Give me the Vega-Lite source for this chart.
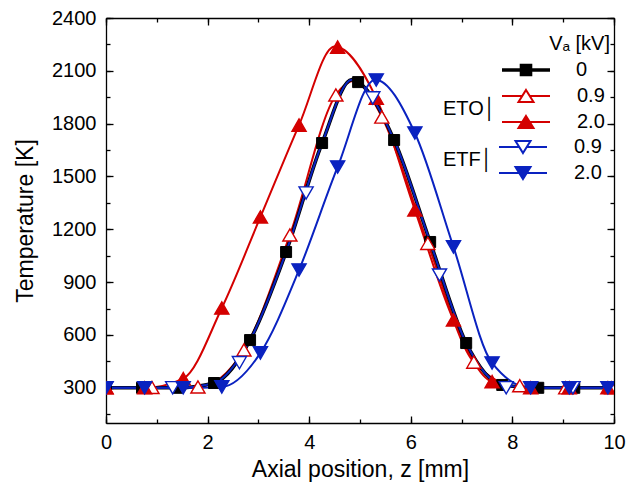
{
  "$schema": "https://vega.github.io/schema/vega-lite/v6.json",
  "width": 508,
  "height": 405,
  "autosize": "none",
  "padding": {"left": 106, "top": 18, "right": 14, "bottom": 68},
  "background": "white",
  "title": {"text": "Vₐ [kV]", "anchor": "end", "frame": "group", "orient": "top", "offset": -46, "dx": -4,
            "font": "Liberation Sans", "fontSize": 20, "fontWeight": "normal", "color": "black"},
  "config": {
    "view": {"stroke": null},
    "font": "Liberation Sans",
    "axis": {
      "grid": false,
      "domainColor": "black",
      "tickColor": "black",
      "labelColor": "black",
      "titleColor": "black",
      "labelFont": "Liberation Sans",
      "titleFont": "Liberation Sans",
      "labelFontSize": 20,
      "titleFontSize": 23,
      "titleFontWeight": "normal",
      "domainWidth": 1.3,
      "tickWidth": 1.3,
      "labelFlush": false,
      "labelOverlap": false
    },
    "legend": {
      "labelFont": "Liberation Sans",
      "labelFontSize": 20,
      "labelColor": "black",
      "titleFont": "Liberation Sans",
      "titleFontSize": 20,
      "titleFontWeight": "normal",
      "titleColor": "black",
      "symbolSize": 100,
      "padding": 0,
      "rowPadding": 6
    }
  },
  "datasets": {
    "markers": [
      {"series": "0", "z": 0, "T": 300},
      {"series": "0", "z": 0.709, "T": 300},
      {"series": "0", "z": 1.418, "T": 300},
      {"series": "0", "z": 2.127, "T": 327},
      {"series": "0", "z": 2.836, "T": 571},
      {"series": "0", "z": 3.545, "T": 1071},
      {"series": "0", "z": 4.254, "T": 1690},
      {"series": "0", "z": 4.963, "T": 2036},
      {"series": "0", "z": 5.672, "T": 1707},
      {"series": "0", "z": 6.381, "T": 1128},
      {"series": "0", "z": 7.09, "T": 554},
      {"series": "0", "z": 7.8, "T": 316},
      {"series": "0", "z": 8.509, "T": 300},
      {"series": "0", "z": 9.218, "T": 300},
      {"series": "0", "z": 9.927, "T": 300},
      {"series": "ETO 0.9", "z": 0, "T": 300},
      {"series": "ETO 0.9", "z": 0.905, "T": 302},
      {"series": "ETO 0.9", "z": 1.81, "T": 305},
      {"series": "ETO 0.9", "z": 2.715, "T": 515},
      {"series": "ETO 0.9", "z": 3.62, "T": 1168},
      {"series": "ETO 0.9", "z": 4.525, "T": 1963},
      {"series": "ETO 0.9", "z": 5.43, "T": 1838},
      {"series": "ETO 0.9", "z": 6.335, "T": 1120},
      {"series": "ETO 0.9", "z": 7.24, "T": 446},
      {"series": "ETO 0.9", "z": 8.145, "T": 312},
      {"series": "ETO 0.9", "z": 9.05, "T": 300},
      {"series": "ETO 0.9", "z": 9.955, "T": 300},
      {"series": "ETO 2.0", "z": 0, "T": 300},
      {"series": "ETO 2.0", "z": 0.76, "T": 300},
      {"series": "ETO 2.0", "z": 1.52, "T": 352},
      {"series": "ETO 2.0", "z": 2.28, "T": 753},
      {"series": "ETO 2.0", "z": 3.04, "T": 1270},
      {"series": "ETO 2.0", "z": 3.8, "T": 1792},
      {"series": "ETO 2.0", "z": 4.56, "T": 2235},
      {"series": "ETO 2.0", "z": 5.32, "T": 1945},
      {"series": "ETO 2.0", "z": 6.08, "T": 1310},
      {"series": "ETO 2.0", "z": 6.84, "T": 685},
      {"series": "ETO 2.0", "z": 7.6, "T": 335},
      {"series": "ETO 2.0", "z": 8.36, "T": 300},
      {"series": "ETO 2.0", "z": 9.12, "T": 300},
      {"series": "ETO 2.0", "z": 9.88, "T": 300},
      {"series": "ETF 0.9", "z": 0, "T": 300},
      {"series": "ETF 0.9", "z": 1.313, "T": 300},
      {"series": "ETF 0.9", "z": 2.626, "T": 443},
      {"series": "ETF 0.9", "z": 3.939, "T": 1406},
      {"series": "ETF 0.9", "z": 5.252, "T": 1946},
      {"series": "ETF 0.9", "z": 6.565, "T": 940},
      {"series": "ETF 0.9", "z": 7.878, "T": 300},
      {"series": "ETF 0.9", "z": 9.191, "T": 300},
      {"series": "ETF 2.0", "z": 0, "T": 300},
      {"series": "ETF 2.0", "z": 0.76, "T": 300},
      {"series": "ETF 2.0", "z": 1.52, "T": 300},
      {"series": "ETF 2.0", "z": 2.28, "T": 305},
      {"series": "ETF 2.0", "z": 3.04, "T": 498},
      {"series": "ETF 2.0", "z": 3.8, "T": 969},
      {"series": "ETF 2.0", "z": 4.56, "T": 1554},
      {"series": "ETF 2.0", "z": 5.32, "T": 2048},
      {"series": "ETF 2.0", "z": 6.08, "T": 1747},
      {"series": "ETF 2.0", "z": 6.84, "T": 1100},
      {"series": "ETF 2.0", "z": 7.6, "T": 441},
      {"series": "ETF 2.0", "z": 8.36, "T": 300},
      {"series": "ETF 2.0", "z": 9.12, "T": 300},
      {"series": "ETF 2.0", "z": 9.88, "T": 300}
    ],
    "curves": [
      {"series": "ETO 2.0", "z": 0, "T": 300},
      {"series": "ETO 2.0", "z": 0.76, "T": 300},
      {"series": "ETO 2.0", "z": 1.52, "T": 352},
      {"series": "ETO 2.0", "z": 2.28, "T": 753},
      {"series": "ETO 2.0", "z": 3.04, "T": 1270},
      {"series": "ETO 2.0", "z": 3.8, "T": 1792},
      {"series": "ETO 2.0", "z": 4.5, "T": 2238},
      {"series": "ETO 2.0", "z": 5.32, "T": 1945},
      {"series": "ETO 2.0", "z": 6.08, "T": 1310},
      {"series": "ETO 2.0", "z": 6.84, "T": 685},
      {"series": "ETO 2.0", "z": 7.6, "T": 335},
      {"series": "ETO 2.0", "z": 8.36, "T": 300},
      {"series": "ETO 2.0", "z": 10, "T": 300},
      {"series": "ETO 0.9", "z": 0, "T": 300},
      {"series": "ETO 0.9", "z": 1.81, "T": 305},
      {"series": "ETO 0.9", "z": 2.715, "T": 515},
      {"series": "ETO 0.9", "z": 3.62, "T": 1168},
      {"series": "ETO 0.9", "z": 4.525, "T": 1963},
      {"series": "ETO 0.9", "z": 4.9, "T": 2045},
      {"series": "ETO 0.9", "z": 5.43, "T": 1838},
      {"series": "ETO 0.9", "z": 6.335, "T": 1120},
      {"series": "ETO 0.9", "z": 7.24, "T": 446},
      {"series": "ETO 0.9", "z": 8.145, "T": 305},
      {"series": "ETO 0.9", "z": 10, "T": 300},
      {"series": "0", "z": 0, "T": 300},
      {"series": "0", "z": 1.418, "T": 300},
      {"series": "0", "z": 2.127, "T": 327},
      {"series": "0", "z": 2.836, "T": 571},
      {"series": "0", "z": 3.545, "T": 1071},
      {"series": "0", "z": 4.254, "T": 1690},
      {"series": "0", "z": 4.84, "T": 2050},
      {"series": "0", "z": 4.963, "T": 2036},
      {"series": "0", "z": 5.672, "T": 1707},
      {"series": "0", "z": 6.381, "T": 1128},
      {"series": "0", "z": 7.09, "T": 554},
      {"series": "0", "z": 7.8, "T": 316},
      {"series": "0", "z": 8.509, "T": 300},
      {"series": "0", "z": 10, "T": 300},
      {"series": "ETF 2.0", "z": 0, "T": 300},
      {"series": "ETF 2.0", "z": 1.52, "T": 300},
      {"series": "ETF 2.0", "z": 2.28, "T": 305},
      {"series": "ETF 2.0", "z": 3.04, "T": 498},
      {"series": "ETF 2.0", "z": 3.8, "T": 969},
      {"series": "ETF 2.0", "z": 4.56, "T": 1554},
      {"series": "ETF 2.0", "z": 5.3, "T": 2050},
      {"series": "ETF 2.0", "z": 6.08, "T": 1747},
      {"series": "ETF 2.0", "z": 6.84, "T": 1100},
      {"series": "ETF 2.0", "z": 7.6, "T": 441},
      {"series": "ETF 2.0", "z": 8.36, "T": 300},
      {"series": "ETF 2.0", "z": 10, "T": 300},
      {"series": "ETF 0.9", "z": 0, "T": 300},
      {"series": "ETF 0.9", "z": 1.418, "T": 300},
      {"series": "ETF 0.9", "z": 2.127, "T": 327},
      {"series": "ETF 0.9", "z": 2.836, "T": 571},
      {"series": "ETF 0.9", "z": 3.545, "T": 1071},
      {"series": "ETF 0.9", "z": 4.254, "T": 1690},
      {"series": "ETF 0.9", "z": 4.84, "T": 2050},
      {"series": "ETF 0.9", "z": 4.963, "T": 2036},
      {"series": "ETF 0.9", "z": 5.672, "T": 1707},
      {"series": "ETF 0.9", "z": 6.381, "T": 1128},
      {"series": "ETF 0.9", "z": 7.09, "T": 554},
      {"series": "ETF 0.9", "z": 7.8, "T": 316},
      {"series": "ETF 0.9", "z": 8.509, "T": 300},
      {"series": "ETF 0.9", "z": 10, "T": 300}
    ]
  },
  "layer": [
    {
      "data": {"name": "curves"},
      "transform": [{"filter": "indexof(datum.series, 'ETO') === 0"}],
      "mark": {"type": "line", "interpolate": "monotone", "strokeWidth": 2, "clip": true},
      "encoding": {
        "x": {"field": "z", "type": "quantitative", "scale": {"domain": [0, 10], "nice": false, "zero": false},
              "axis": {"orient": "bottom", "values": [0, 2, 4, 6, 8, 10], "tickSize": -7, "labelPadding": 16, "title": "Axial position, z [mm]", "titlePadding": 6}},
        "y": {"field": "T", "type": "quantitative", "scale": {"domain": [100, 2400], "nice": false, "zero": false},
              "axis": {"orient": "left", "values": [300, 600, 900, 1200, 1500, 1800, 2100, 2400], "format": "d", "tickSize": -7, "labelPadding": 17, "title": "Temperature [K]", "titlePadding": 14}},
        "color": {"field": "series", "type": "nominal",
                  "scale": {"domain": ["0", "ETO 0.9", "ETO 2.0", "ETF 0.9", "ETF 2.0"], "range": ["black", "#d40000", "#d40000", "#0a22c0", "#0a22c0"]},
                  "legend": null},
        "detail": {"field": "series"}
      }
    },
    {
      "data": {"name": "curves"},
      "transform": [{"filter": "datum.series === '0'"}],
      "mark": {"type": "line", "interpolate": "monotone", "strokeWidth": 3.6, "color": "black", "clip": true},
      "encoding": {
        "x": {"field": "z", "type": "quantitative", "axis": {"orient": "top", "values": [0, 2, 4, 6, 8, 10], "tickSize": -7, "labels": false, "title": null}},
        "y": {"field": "T", "type": "quantitative", "axis": {"orient": "right", "values": [300, 600, 900, 1200, 1500, 1800, 2100, 2400], "tickSize": -7, "labels": false, "title": null}}
      }
    },
    {
      "data": {"name": "curves"},
      "transform": [{"filter": "indexof(datum.series, 'ETF') === 0"}],
      "mark": {"type": "line", "interpolate": "monotone", "strokeWidth": 2, "clip": true},
      "encoding": {
        "x": {"field": "z", "type": "quantitative", "axis": {"orient": "bottom", "values": [0, 1, 2, 3, 4, 5, 6, 7, 8, 9, 10], "tickSize": -4, "labels": false, "domain": false, "title": null}},
        "y": {"field": "T", "type": "quantitative", "axis": {"orient": "left", "values": [150, 300, 450, 600, 750, 900, 1050, 1200, 1350, 1500, 1650, 1800, 1950, 2100, 2250, 2400], "tickSize": -4, "labels": false, "domain": false, "title": null}},
        "color": {"field": "series", "type": "nominal", "legend": null},
        "detail": {"field": "series"}
      }
    },
    {
      "data": {"name": "markers"},
      "transform": [{"filter": "datum.series === '0'"}],
      "mark": {"type": "point", "shape": "square", "filled": true, "size": 121, "stroke": "black", "strokeWidth": 1, "opacity": 1, "clip": true},
      "encoding": {
        "x": {"field": "z", "type": "quantitative", "axis": {"orient": "top", "values": [0, 1, 2, 3, 4, 5, 6, 7, 8, 9, 10], "tickSize": -4, "labels": false, "domain": false, "title": null}},
        "y": {"field": "T", "type": "quantitative", "axis": {"orient": "right", "values": [150, 300, 450, 600, 750, 900, 1050, 1200, 1350, 1500, 1650, 1800, 1950, 2100, 2250, 2400], "tickSize": -4, "labels": false, "domain": false, "title": null}},
        "fill": {"field": "series", "type": "nominal", "scale": {"domain": ["0"], "range": ["black"]},
                 "legend": {"title": null, "orient": "none", "legendX": 410, "legendY": 42,
                            "symbolType": "M-4.8,0H4.8M-0.9,-0.9H0.9V0.9H-0.9Z",
                            "symbolStrokeColor": "black", "symbolStrokeWidth": 3.6, "labelOffset": 40}}
      }
    },
    {
      "data": {"name": "markers"},
      "transform": [{"filter": "indexof(datum.series, 'ETO') === 0"}],
      "mark": {"type": "point", "shape": "triangle-up", "filled": true, "size": 200, "stroke": "#d40000", "strokeWidth": 1.4, "opacity": 1, "clip": true},
      "encoding": {
        "x": {"field": "z", "type": "quantitative", "axis": null},
        "y": {"field": "T", "type": "quantitative", "axis": null},
        "fill": {"field": "series", "type": "nominal", "scale": {"domain": ["ETO 0.9", "ETO 2.0"], "range": ["white", "#d40000"]},
                 "legend": {"title": "ETO│", "orient": "none", "legendX": 337, "legendY": 68, "titleOrient": "left", "titleAnchor": "middle", "titleBaseline": "middle", "titlePadding": 19,
                            "symbolType": "M-4.8,0H-0.75M0.75,0H4.8M0,-1.2L1.5,1.2L-1.5,1.2Z",
                            "symbolStrokeColor": "#d40000", "symbolStrokeWidth": 2, "labelOffset": 41, "labelExpr": "replace(datum.label, 'ETO ', '')"}}
      }
    },
    {
      "data": {"name": "markers"},
      "transform": [{"filter": "indexof(datum.series, 'ETF') === 0"}],
      "mark": {"type": "point", "shape": "triangle-down", "filled": true, "size": 200, "stroke": "#0a22c0", "strokeWidth": 1.4, "opacity": 1, "clip": true},
      "encoding": {
        "x": {"field": "z", "type": "quantitative", "axis": null},
        "y": {"field": "T", "type": "quantitative", "axis": null},
        "fill": {"field": "series", "type": "nominal", "scale": {"domain": ["ETF 0.9", "ETF 2.0"], "range": ["white", "#0a22c0"]},
                 "legend": {"title": "ETF│", "orient": "none", "legendX": 337, "legendY": 119, "titleOrient": "left", "titleAnchor": "middle", "titleBaseline": "middle", "titlePadding": 19,
                            "symbolType": "M-4.8,0H-0.75M0.75,0H4.8M0,1.2L1.5,-1.2L-1.5,-1.2Z",
                            "symbolStrokeColor": "#0a22c0", "symbolStrokeWidth": 2, "labelOffset": 41, "labelExpr": "replace(datum.label, 'ETF ', '')"}}
      }
    }
  ],
  "resolve": {
    "scale": {"fill": "independent"},
    "axis": {"x": "independent", "y": "independent"},
    "legend": {"fill": "independent"}
  }
}
